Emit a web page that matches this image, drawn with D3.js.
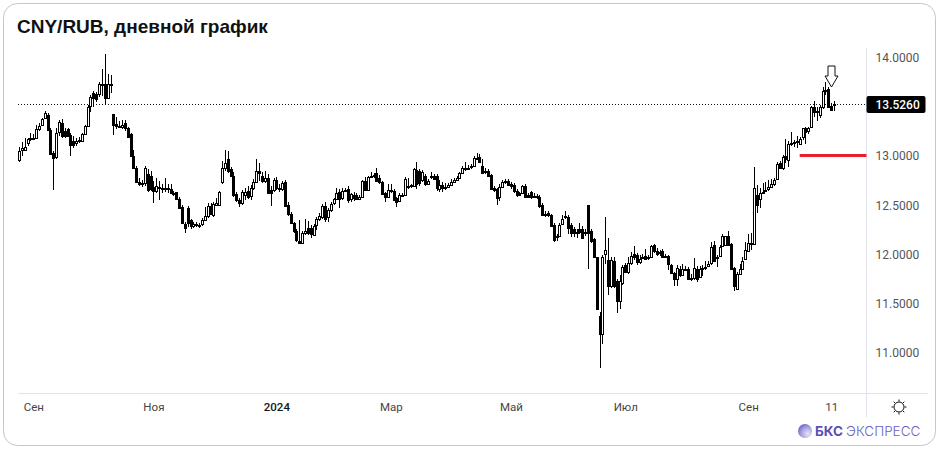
<!DOCTYPE html>
<html>
<head>
<meta charset="utf-8">
<script src="https://cdn.jsdelivr.net/npm/d3@7/dist/d3.min.js"></script>
<style>
  html, body { margin: 0; padding: 0; background: #fff; }
  svg { display: block; }
</style>
</head>
<body>
<svg></svg>
<script>
const opens = [
  12.96,13.06,13.06,13.13,13.17,13.18,13.18,13.27,13.32,13.39,13.42,
  13.26,13.03,12.99,13.24,13.34,13.25,13.27,13.21,13.15,13.13,
  13.15,13.15,13.22,13.31,13.51,13.64,13.63,13.63,13.72,
  13.73,13.59,13.72,13.43,13.33,13.31,13.30,13.34,13.28,13.22,
  13.00,12.88,12.74,12.72,12.73,12.82,12.80,12.69,12.65,12.69,12.68,
  12.67,12.68,12.67,12.62,12.63,12.56,12.48,12.31,12.47,12.35,
  12.29,12.31,12.29,12.31,12.35,12.39,12.49,12.40,12.50,12.50,12.74,
  12.88,12.97,12.87,12.80,12.61,12.55,12.52,12.60,12.65,12.59,
  12.68,12.74,12.85,12.80,12.75,12.78,12.66,12.66,12.76,12.68,
  12.67,12.74,12.50,12.41,12.32,12.24,12.14,12.12,12.22,12.27,
  12.27,12.20,12.30,12.36,12.38,12.49,12.38,12.45,12.52,12.56,
  12.63,12.57,12.65,12.67,12.56,12.60,12.60,12.56,12.58,12.75,
  12.66,12.79,12.80,12.83,12.78,12.74,12.62,12.58,12.66,12.65,
  12.57,12.54,12.60,12.60,12.69,12.70,12.70,12.86,12.85,12.76,
  12.80,12.72,12.80,12.80,12.80,12.67,12.71,12.68,12.69,12.71,
  12.74,12.76,12.78,12.83,12.88,12.87,12.89,12.90,12.98,12.99,
  12.90,12.85,12.85,12.81,12.68,12.67,12.58,12.69,12.74,12.75,
  12.72,12.71,12.65,12.62,12.62,12.70,12.60,12.63,12.59,12.58,
  12.58,12.50,12.41,12.42,12.40,12.30,12.19,12.19,12.31,12.38,
  12.38,12.30,12.26,12.23,12.26,12.26,12.23,12.50,12.24,12.16,
  11.97,11.38,11.19,12.01,11.94,11.68,11.93,11.73,11.53,11.71,
  11.89,11.82,11.91,12.01,12.00,11.92,11.97,11.99,11.96,11.98,
  12.10,12.04,12.03,12.04,11.99,11.99,11.89,11.81,11.75,11.85,
  11.79,11.85,11.85,11.75,11.76,11.85,11.77,11.85,11.86,11.88,
  11.91,12.10,11.96,11.99,12.09,12.10,12.19,12.11,11.86,
  11.65,11.80,11.85,11.95,12.04,12.11,12.11,12.60,12.56,12.63,
  12.65,12.67,12.69,12.72,12.77,12.93,12.88,13.00,12.96,13.12,
  13.13,13.14,13.12,13.19,13.28,13.25,13.30,13.50,13.45,13.42,
  13.50,13.66,13.68,13.51,13.53
];
const highs = [
  13.09,13.14,13.18,13.18,13.23,13.22,13.32,13.34,13.39,13.46,13.44,
  13.28,13.05,13.29,13.37,13.38,13.29,13.29,13.23,13.20,13.18,
  13.19,13.23,13.32,13.52,13.62,13.66,13.65,13.75,13.88,
  14.04,13.83,13.82,13.43,13.40,13.36,13.37,13.37,13.30,13.23,
  13.06,12.90,12.78,12.76,12.90,12.87,12.85,12.75,12.78,12.75,12.72,
  12.78,12.72,12.72,12.65,12.64,12.58,12.50,12.33,12.49,12.36,
  12.33,12.33,12.32,12.37,12.48,12.52,12.52,12.53,12.57,12.65,12.95,
  13.06,13.05,12.89,12.84,12.63,12.57,12.66,12.68,12.70,12.71,
  12.77,12.97,12.93,12.84,12.85,12.82,12.70,12.78,12.79,12.72,
  12.75,12.76,12.53,12.43,12.33,12.26,12.35,12.24,12.36,12.34,
  12.30,12.31,12.38,12.42,12.51,12.53,12.47,12.53,12.57,12.68,
  12.67,12.68,12.68,12.70,12.62,12.63,12.62,12.60,12.76,12.79,
  12.80,12.84,12.83,12.88,12.81,12.75,12.64,12.72,12.72,12.67,
  12.58,12.62,12.62,12.79,12.78,12.72,12.88,12.94,12.87,12.86,
  12.82,12.77,12.84,12.82,12.82,12.76,12.74,12.73,12.73,12.77,
  12.78,12.80,12.84,12.90,12.94,12.91,12.92,13.00,13.03,13.02,
  12.97,12.88,12.87,12.82,12.70,12.68,12.72,12.76,12.77,12.77,
  12.74,12.73,12.67,12.64,12.71,12.72,12.62,12.65,12.62,12.61,
  12.60,12.52,12.44,12.44,12.41,12.32,12.21,12.32,12.40,12.44,
  12.40,12.32,12.28,12.26,12.32,12.29,12.26,12.50,12.26,12.17,
  11.97,11.42,12.00,12.38,12.17,11.98,11.98,11.75,11.79,11.89,
  11.91,11.97,12.03,12.09,12.02,12.00,12.01,12.06,12.00,12.10,
  12.11,12.07,12.05,12.06,12.01,12.00,11.90,11.82,11.89,11.88,
  11.90,11.88,11.87,11.80,11.96,11.88,11.88,11.89,11.93,11.93,
  12.13,12.14,12.00,12.10,12.21,12.19,12.24,12.12,11.87,
  11.82,11.90,11.97,12.13,12.21,12.22,12.89,12.71,12.68,12.73,
  12.74,12.76,12.77,12.78,12.94,12.95,13.01,13.17,13.15,13.24,
  13.16,13.20,13.19,13.29,13.30,13.30,13.51,13.56,13.50,13.52,
  13.70,13.75,13.70,13.54,13.56
];
const lows = [
  12.94,13.00,13.05,13.10,13.15,13.16,13.17,13.25,13.31,13.38,13.25,
  13.01,12.66,12.97,13.20,13.18,13.18,13.19,13.00,13.08,13.10,
  13.13,13.14,13.21,13.30,13.45,13.50,13.55,13.60,13.61,
  13.53,13.59,13.64,13.21,13.27,13.28,13.27,13.25,13.18,13.00,
  12.88,12.73,12.70,12.69,12.70,12.64,12.65,12.52,12.62,12.55,12.62,
  12.63,12.62,12.61,12.59,12.55,12.46,12.31,12.22,12.28,12.26,
  12.27,12.28,12.27,12.29,12.34,12.37,12.40,12.38,12.49,12.49,12.72,
  12.85,12.83,12.79,12.58,12.53,12.48,12.50,12.55,12.56,12.55,
  12.66,12.73,12.75,12.73,12.73,12.61,12.49,12.64,12.66,12.64,
  12.65,12.48,12.39,12.31,12.22,12.13,12.11,12.11,12.20,12.20,
  12.17,12.19,12.25,12.34,12.36,12.33,12.33,12.43,12.50,12.55,
  12.47,12.55,12.63,12.52,12.53,12.54,12.55,12.55,12.57,12.65,
  12.65,12.78,12.78,12.74,12.72,12.60,12.53,12.57,12.62,12.54,
  12.48,12.53,12.58,12.59,12.67,12.68,12.69,12.67,12.70,12.74,
  12.70,12.71,12.77,12.76,12.65,12.64,12.63,12.66,12.68,12.70,
  12.73,12.75,12.77,12.82,12.85,12.86,12.87,12.89,12.96,12.93,
  12.82,12.82,12.79,12.66,12.64,12.50,12.54,12.68,12.72,12.70,
  12.67,12.62,12.58,12.59,12.61,12.57,12.57,12.56,12.57,12.56,
  12.47,12.39,12.38,12.38,12.28,12.13,12.14,12.18,12.30,12.36,
  12.21,12.18,12.18,12.17,12.21,12.17,12.19,11.85,12.12,11.96,
  11.44,10.85,11.09,11.90,11.59,11.66,11.66,11.41,11.45,11.69,
  11.81,11.80,11.89,11.94,11.89,11.90,11.95,11.94,11.94,11.97,
  12.02,11.99,11.99,11.97,11.96,11.84,11.80,11.68,11.68,11.77,
  11.78,11.83,11.75,11.73,11.74,11.72,11.76,11.78,11.84,11.87,
  11.89,11.92,11.87,11.98,12.08,12.09,12.09,11.84,11.63,
  11.64,11.79,11.84,11.94,12.03,12.05,12.10,12.42,12.47,12.61,
  12.63,12.65,12.68,12.70,12.76,12.87,12.86,12.93,12.89,13.10,
  13.09,13.08,13.11,13.16,13.12,13.22,13.28,13.40,13.36,13.39,
  13.48,13.62,13.50,13.46,13.46
];
const closes = [
  13.05,13.08,13.09,13.17,13.18,13.18,13.27,13.31,13.38,13.44,13.26,
  13.02,12.98,13.23,13.35,13.20,13.20,13.20,13.11,13.11,13.15,
  13.16,13.22,13.31,13.50,13.60,13.59,13.58,13.73,13.73,
  13.59,13.73,13.73,13.32,13.31,13.30,13.32,13.28,13.19,13.00,
  12.88,12.74,12.72,12.73,12.88,12.66,12.67,12.65,12.70,12.68,12.67,
  12.68,12.68,12.62,12.61,12.56,12.47,12.32,12.27,12.32,12.29,
  12.31,12.30,12.30,12.35,12.39,12.49,12.41,12.51,12.52,12.63,12.88,
  12.93,12.85,12.80,12.60,12.55,12.52,12.64,12.64,12.58,12.68,
  12.74,12.85,12.83,12.75,12.78,12.62,12.62,12.76,12.68,12.67,
  12.73,12.49,12.41,12.32,12.24,12.15,12.12,12.22,12.24,12.22,
  12.21,12.29,12.36,12.39,12.49,12.36,12.45,12.51,12.56,12.62,
  12.56,12.65,12.66,12.55,12.61,12.57,12.56,12.58,12.75,12.66,
  12.79,12.80,12.81,12.75,12.74,12.61,12.58,12.66,12.65,12.55,
  12.53,12.60,12.60,12.77,12.70,12.71,12.87,12.72,12.73,12.84,
  12.72,12.75,12.79,12.77,12.68,12.71,12.68,12.69,12.71,12.74,
  12.76,12.78,12.83,12.88,12.87,12.88,12.90,12.98,12.98,12.94,
  12.83,12.84,12.80,12.67,12.66,12.57,12.69,12.74,12.75,12.71,
  12.70,12.65,12.60,12.60,12.70,12.58,12.58,12.58,12.59,12.59,
  12.49,12.40,12.40,12.40,12.29,12.15,12.19,12.30,12.36,12.39,
  12.27,12.22,12.22,12.23,12.23,12.17,12.23,12.22,12.14,11.97,
  11.45,11.19,11.97,12.05,11.68,11.94,11.68,11.53,11.73,11.87,
  11.82,11.91,11.99,11.97,11.92,11.95,11.98,11.95,11.97,12.09,
  12.04,12.01,12.02,11.98,11.97,11.90,11.81,11.75,11.86,11.79,
  11.85,11.85,11.75,11.76,11.86,11.75,11.85,11.86,11.87,11.90,
  12.08,11.93,11.98,12.08,12.19,12.19,12.10,11.85,11.68,
  11.80,11.85,11.93,12.05,12.12,12.12,12.68,12.50,12.62,12.64,
  12.66,12.69,12.72,12.76,12.92,12.88,12.99,12.97,13.12,13.13,
  13.14,13.15,13.17,13.28,13.24,13.28,13.50,13.45,13.46,13.50,
  13.66,13.67,13.50,13.47,13.526
];

const priceTicks = [11, 11.5, 12, 12.5, 13, 14];
const dateLabels = ["Сен", "Ноя", "2024", "Мар", "Май", "Июл", "Сен", "11"];
const dateIndex = [5, 47, 90, 130, 172, 212, 255, 284];
const lastPrice = 13.526;
const redLevel = 13;
const redFrom = 273;
const arrowIndex = 284;
const arrowPrice = 13.7;

const width = 940;
const height = 451;
const axisX = 866.5;
const axisY = 393.5;
const tickFont = "Roboto, sans-serif";

const svg = d3.select("svg").attr("width", width).attr("height", height);

svg.append("rect")
   .attr("x", 3.5).attr("y", 3.5)
   .attr("width", 932).attr("height", 442)
   .attr("rx", 14)
   .attr("fill", "#fff")
   .attr("stroke", "#c6c6c6");

svg.append("text")
   .attr("x", 17).attr("y", 33)
   .attr("font-family", "Liberation Sans, Arial, sans-serif")
   .attr("font-size", 19)
   .attr("font-weight", 700)
   .attr("fill", "#111")
   .text("CNY/RUB, дневной график");

let x = d3.scalePoint().domain(d3.range(opens.length)).range([19, 834]);
let y = d3.scaleLinear().domain([11, 14]).range([353, 57.6]);

// axes
let xAxis = d3.axisBottom(x)
    .tickValues(dateIndex)
    .tickSize(0)
    .tickPadding(9)
    .tickFormat(i => dateLabels[dateIndex.indexOf(i)]);
let yAxis = d3.axisRight(y)
    .tickValues(priceTicks)
    .tickSize(0)
    .tickPadding(9)
    .tickFormat(d3.format(".4f"));

let gx = svg.append("g").attr("transform", "translate(0," + axisY + ")").call(xAxis);
gx.select(".domain").remove();
gx.selectAll("text")
  .attr("font-family", tickFont)
  .attr("font-size", 11.5)
  .attr("fill", d => dateLabels[dateIndex.indexOf(d)] === "2024" ? "#131722" : "#444");
gx.selectAll("text").filter(d => dateLabels[dateIndex.indexOf(d)] === "2024").attr("font-weight", 500);

let gy = svg.append("g").attr("transform", "translate(" + axisX + ",0)").call(yAxis);
gy.select(".domain").remove();
gy.selectAll("text")
  .attr("font-family", tickFont)
  .attr("font-size", 12)
  .attr("fill", "#555");

svg.append("line")
   .attr("x1", 18).attr("x2", 928)
   .attr("y1", axisY).attr("y2", axisY)
   .attr("stroke", "#e0e3eb");
svg.append("line")
   .attr("x1", axisX).attr("x2", axisX)
   .attr("y1", 48).attr("y2", 417)
   .attr("stroke", "#e0e3eb");

// last price line
svg.append("line")
   .attr("x1", 18).attr("x2", axisX)
   .attr("y1", Math.round(y(lastPrice)) + 0.5).attr("y2", Math.round(y(lastPrice)) + 0.5)
   .attr("stroke", "#111")
   .attr("stroke-dasharray", "1,2");

// candles
let candles = svg.append("g").attr("shape-rendering", "crispEdges");
d3.range(opens.length).forEach(i => {
    let cx = Math.round(x(i)) + 0.5;
    let up = closes[i] >= opens[i];
    candles.append("line")
        .attr("x1", cx).attr("x2", cx)
        .attr("y1", y(highs[i])).attr("y2", y(lows[i]))
        .attr("stroke", "#000");
    let top = Math.round(y(Math.max(opens[i], closes[i])));
    let bottom = Math.round(y(Math.min(opens[i], closes[i])));
    if (bottom - top < 1) bottom = top + 1;
    candles.append("rect")
        .attr("x", cx - 1).attr("y", top + 0.5)
        .attr("width", 2).attr("height", bottom - top)
        .attr("fill", up ? "#fff" : "#000")
        .attr("stroke", "#000");
});

// level and marker
svg.append("line")
   .attr("x1", x(redFrom)).attr("x2", axisX)
   .attr("y1", Math.round(y(redLevel)) - 0.5).attr("y2", Math.round(y(redLevel)) - 0.5)
   .attr("stroke", "#ed1c2e")
   .attr("stroke-width", 3);

let ax = Math.round(x(arrowIndex)) + 0.5;
let ay = Math.round(y(arrowPrice));
svg.append("path")
   .attr("d", `M${ax},${ay} l-6.5,-11 h3 v-10 h7 v10 h3 z`)
   .attr("fill", "#fff")
   .attr("stroke", "#111");

// price label
let ly = Math.round(y(lastPrice)) + 0.5;
svg.append("rect")
   .attr("x", axisX).attr("y", ly - 8.5)
   .attr("width", 59).attr("height", 17)
   .attr("rx", 2)
   .attr("fill", "#000");
svg.append("text")
   .attr("x", axisX + 9).attr("y", ly + 4.5)
   .attr("font-family", tickFont)
   .attr("font-size", 12)
   .attr("font-weight", 500)
   .attr("fill", "#fff")
   .text(d3.format(".4f")(lastPrice));

// settings icon
let sun = svg.append("g").attr("transform", "translate(899,407)").attr("fill", "none").attr("stroke", "#111");
sun.append("circle").attr("r", 5);
d3.range(8).forEach(k => {
    let a = k * Math.PI / 4;
    sun.append("line")
       .attr("x1", Math.cos(a) * 5.5).attr("y1", Math.sin(a) * 5.5)
       .attr("x2", Math.cos(a) * 7.5).attr("y2", Math.sin(a) * 7.5);
});

// logo
let defs = svg.append("defs");
let grad = defs.append("radialGradient").attr("id", "ball").attr("cx", "70%").attr("cy", "70%").attr("r", "80%");
grad.append("stop").attr("offset", "0%").attr("stop-color", "#e6e4f6");
grad.append("stop").attr("offset", "60%").attr("stop-color", "#a59fdf");
grad.append("stop").attr("offset", "100%").attr("stop-color", "#6a60c8");
svg.append("circle").attr("cx", 805).attr("cy", 431).attr("r", 7).attr("fill", "url(#ball)");
let logo = svg.append("text")
   .attr("x", 815).attr("y", 436)
   .attr("font-family", "Inter, Liberation Sans, sans-serif")
   .attr("font-size", 13.5)
   .attr("fill", "#5c4fb5");
logo.append("tspan").attr("font-weight", 700).text("БКС ");
logo.append("tspan").attr("font-weight", 300).attr("fill", "#6a5fbe").text("ЭКСПРЕСС");
</script>
</body>
</html>
